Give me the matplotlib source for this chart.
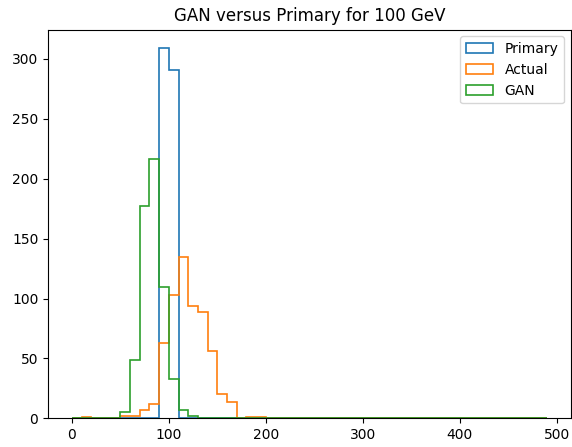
import numpy as np
import matplotlib.pyplot as plt

edges = np.arange(0, 500, 10)  # 0..490, 49 bins

primary_counts = np.zeros(len(edges) - 1)
primary_counts[9] = 309
primary_counts[10] = 291

actual_counts = np.zeros(len(edges) - 1)
actual_counts[1] = 1
actual_counts[5:17] = [2, 2, 7, 12, 63, 103, 135, 94, 89, 56, 20, 14]
actual_counts[18:20] = [1, 1]

gan_counts = np.zeros(len(edges) - 1)
gan_counts[5:13] = [5, 49, 177, 216, 110, 33, 7, 2]

fig = plt.figure(figsize=(5.72, 4.47), dpi=100)
ax = fig.add_axes([0.084, 0.064, 0.914, 0.87])

centers = edges[:-1] + 5
for counts, name in [(primary_counts, 'Primary'), (actual_counts, 'Actual'), (gan_counts, 'GAN')]:
    ax.hist(centers, bins=edges, weights=counts, histtype='step', linewidth=1.2, label=name)

ax.set_title('GAN versus Primary for 100 GeV')
ax.legend(loc='upper right')

fig.savefig('out.png')
